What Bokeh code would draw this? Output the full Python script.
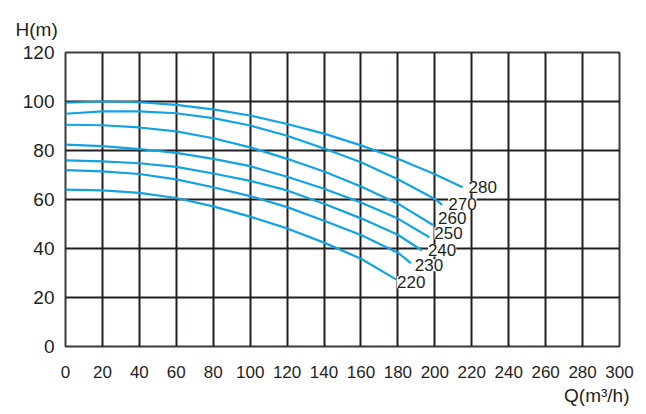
from bokeh.plotting import figure
from bokeh.models import ColumnDataSource, LabelSet, FixedTicker, Range1d, Title
from bokeh.core.properties import value
from bokeh.embed import file_html
from bokeh.resources import INLINE

# Q (m3/h) and H (m)
q280 = [0, 20, 40, 60, 80, 100, 120, 140, 160, 180, 200, 215]
h280 = [99.5, 100.0, 99.7, 98.6, 96.8, 94.3, 90.8, 86.9, 82.1, 76.6, 70.3, 65.0]
q270 = [0, 20, 40, 60, 80, 100, 120, 140, 160, 180, 200, 204]
h270 = [95.0, 96.0, 96.0, 95.2, 93.2, 90.2, 86.0, 80.8, 75.2, 68.3, 60.2, 57.8]
q260 = [0, 20, 40, 60, 80, 100, 120, 140, 160, 180, 199]
h260 = [90.5, 90.3, 89.4, 87.8, 85.0, 81.3, 76.6, 71.4, 65.3, 58.3, 49.6]
q250 = [0, 20, 40, 60, 80, 100, 120, 140, 160, 180, 197]
h250 = [82.4, 81.8, 80.6, 79.0, 76.6, 73.6, 69.3, 64.4, 58.8, 52.2, 44.6]
q240 = [0, 20, 40, 60, 80, 100, 120, 140, 160, 180, 193]
h240 = [76.0, 75.6, 74.8, 73.3, 70.6, 67.6, 63.7, 58.3, 52.3, 45.6, 39.2]
q230 = [0, 20, 40, 60, 80, 100, 120, 140, 160, 180, 187]
h230 = [72.0, 71.5, 70.4, 68.2, 65.0, 61.4, 56.9, 51.3, 45.5, 38.3, 34.0]
q220 = [0, 20, 40, 60, 80, 100, 120, 140, 160, 179]
h220 = [64.0, 63.7, 62.7, 60.6, 57.2, 53.0, 48.2, 42.4, 35.8, 27.4]

curve_names = ["280", "270", "260", "250", "240", "230", "220"]
x_ticks = list(range(0, 301, 20))
y_ticks = list(range(0, 121, 20))

curves = [(q280, h280), (q270, h270), (q260, h260), (q250, h250),
          (q240, h240), (q230, h230), (q220, h220)]

FONT = "Liberation Sans"
INK = "#231f20"
BLUE = "#11a3e2"

p = figure(width=640, height=410, output_backend="svg", toolbar_location=None,
           x_range=Range1d(0, 300), y_range=Range1d(0, 120),
           min_border_left=65, min_border_right=21, min_border_top=52, min_border_bottom=64)
p.background_fill_color = "white"
p.border_fill_color = "white"
p.outline_line_color = "#3a3a3a"
p.outline_line_width = 2

for ax, ticks in ((p.xaxis, x_ticks), (p.yaxis, y_ticks)):
    ax.ticker = FixedTicker(ticks=ticks)
    ax.axis_line_color = None
    ax.major_tick_line_color = None
    ax.minor_tick_line_color = None
    ax.major_tick_out = 0
    ax.major_tick_in = 0
    ax.major_label_text_font = FONT
    ax.major_label_text_color = INK
p.xaxis.major_label_text_font_size = "17px"
p.yaxis.major_label_text_font_size = "19px"
p.xaxis.major_label_standoff = 19
p.yaxis.major_label_standoff = 11

for g in (p.xgrid, p.ygrid):
    g.grid_line_color = INK
    g.grid_line_width = 2
    g.grid_line_alpha = 1.0
p.xgrid.ticker = FixedTicker(ticks=x_ticks)
p.ygrid.ticker = FixedTicker(ticks=y_ticks)

for q, h in curves:
    p.line(q, h, line_color=BLUE, line_width=2.2)

end_src = ColumnDataSource(dict(
    x=[c[0][-1] for c in curves],
    y=[c[1][-1] for c in curves],
    text=curve_names,
    dx=[6, 6, 5, 5, 6, 4, 1],
    dy=[0, 1, 7, 4, 0, -2, -3],
))
p.add_layout(LabelSet(x="x", y="y", text="text", source=end_src,
                      x_offset="dx", y_offset="dy",
                      text_font=value(FONT), text_font_size=value("17px"), text_color=value(INK),
                      text_baseline=value("middle"), text_align=value("left"),
                      background_fill_color="white", background_fill_alpha=1.0))

p.add_layout(Title(text="H(m)", align="left", offset=-50, standoff=25,
                   text_font=FONT, text_font_size="19px", text_font_style="normal",
                   text_color=INK), "above")
p.add_layout(Title(text="Q(m³/h)", align="right", offset=-10, standoff=4,
                   text_font=FONT, text_font_size="19px", text_font_style="normal",
                   text_color=INK), "below")

open("out.html", "w").write(file_html(p, INLINE))
